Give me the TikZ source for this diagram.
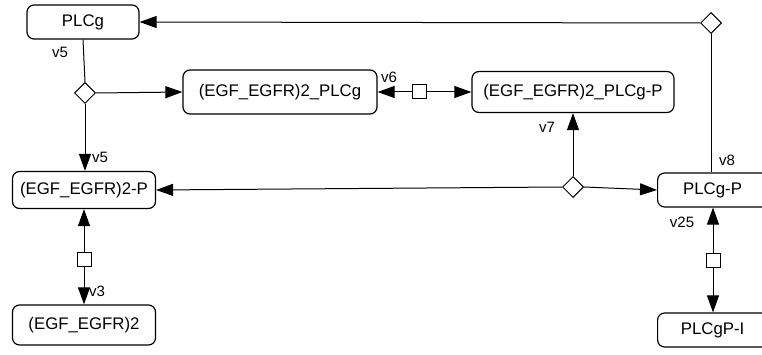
\documentclass[tikz,border=0pt]{standalone}
\usepackage{fontspec}
\setmainfont{Liberation Sans}
\usepackage{tikz}
\usetikzlibrary{positioning, arrows.meta, shapes.geometric}
\tikzset{
    species/.style={draw, line width=1.2pt, rounded corners=7pt, inner sep=0pt,
        font=\fontsize{16.8}{19}\selectfont},
    proc/.style={draw, fill=white, line width=1pt, diamond, aspect=1, inner sep=0pt,
        minimum width=21pt, minimum height=21pt},
    trans/.style={draw, fill=white, line width=1pt, rectangle, inner sep=0pt,
        minimum size=14pt},
    rxn/.style={line width=1pt, -{Triangle[length=17pt, width=12pt]}},
    vlab/.style={font=\fontsize{15}{17}\selectfont, inner sep=0pt}
}

\begin{document}
\begin{tikzpicture}[x=1pt, y=-1pt]
    \useasboundingbox (0,0) rectangle (762,355);

    % species
    \node[species, minimum width=112pt, minimum height=34pt] (plcg) at (83,22) {PLCg};
    \node[species, minimum width=194pt, minimum height=44pt] (cplx) at (280,92) {(EGF\_EGFR)2\_PLCg};
    \node[species, minimum width=202pt, minimum height=41pt] (cplxp) at (573,92) {(EGF\_EGFR)2\_PLCg-P};
    \node[species, minimum width=143pt, minimum height=37pt] (egfrp) at (84,190) {(EGF\_EGFR)2-P};
    \node[species, minimum width=143pt, minimum height=40pt] (egfr) at (84,325) {(EGF\_EGFR)2};
    % these two run past the right edge
    \node[species, minimum width=130pt, minimum height=34pt, anchor=west] (plcgp) at (657,190) {\hspace*{-20pt}PLCg-P};
    \node[species, minimum width=130pt, minimum height=34pt, anchor=west] (plcgpi) at (657,330) {\hspace*{-20pt}PLCgP-I};

    % v5 - PLCg binding
    \node[proc] (d5) at (85,93) {};
    \draw[line width=1pt] (plcg.south) -- (d5.north);
    \draw[rxn] (d5.east) -- (cplx.west);
    \draw[rxn] (d5.south) -- (d5.south |- egfrp.north);
    \node[vlab] (v5a) at (60,52) {v5};
    \node[vlab] (v5b) at (100,157) {v5};

    % v6 - phosphorylation in complex
    \node[trans] (s6) at (419,92) {};
    \draw[rxn] (s6) -- (cplx.east);
    \draw[rxn] (s6) -- (cplxp.west);
    \node[vlab] (v6) at (389,77) {v6};

    % v7 - complex dissociation
    \node[proc] (d7) at (573,187) {};
    \draw[rxn] (d7.west) -- (egfrp.east);
    \draw[rxn] (d7.east) -- (plcgp.west);
    \draw[rxn] (d7.north) -- (cplxp.south);
    \node[vlab] (v7) at (547,127) {v7};

    % v8 - dephosphorylation
    \node[proc] (d8) at (711,23) {};
    \draw[line width=1pt] (plcgp.north -| d8.south) -- (d8.south);
    \draw[rxn] (d8.west) -- (plcg.east);
    \node[vlab] (v8) at (727,160) {v8};

    % v3 and v25 - reversible steps
    \node[trans] (s3) at (84,259) {};
    \draw[rxn] (s3) -- (egfrp.south);
    \draw[rxn] (s3) -- (egfr.north);
    \node[vlab] (v3) at (97,291) {v3};

    \node[trans] (s25) at (713,260) {};
    \draw[rxn] (s25) -- (s25 |- plcgp.south);
    \draw[rxn] (s25) -- (s25 |- plcgpi.north);
    \node[vlab] (v25) at (682,222) {v25};
\end{tikzpicture}
\end{document}
